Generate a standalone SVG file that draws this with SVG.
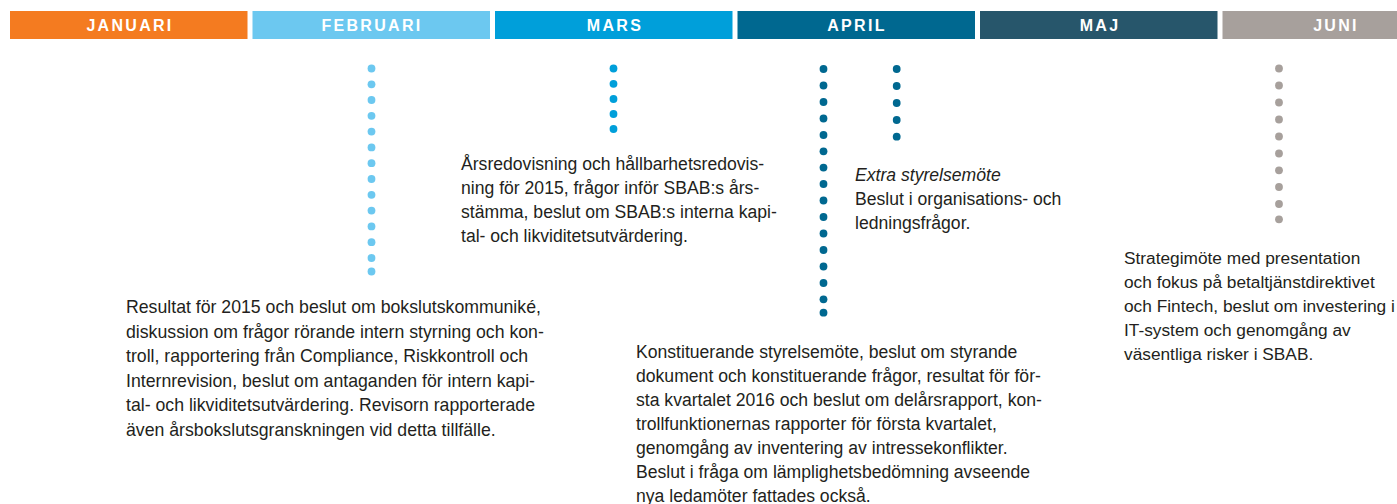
<svg xmlns="http://www.w3.org/2000/svg" width="1397" height="504" viewBox="0 0 1397 504">
<style>
.bar{stroke:none}
.mh{font-family:"Liberation Sans",Arial,sans-serif;font-weight:bold;font-size:16px;letter-spacing:2.3px;fill:#ffffff;text-anchor:middle}
.tx{font-family:"Liberation Sans",Arial,sans-serif;font-size:17.6px;fill:#231F20}
.sm{font-size:17.7px}
.jn{font-size:17.3px}
.it{font-style:italic}
</style>
<defs>
<circle id="d" r="3.9"/>
</defs>
<rect width="1397" height="504" fill="#ffffff"/>
<g id="months">
<g id="m-jan"><rect class="bar" x="10" y="11" width="237.5" height="28" fill="#F47B20"/><text class="mh" x="130" y="31">JANUARI</text></g>
<g id="m-feb"><rect class="bar" x="252.5" y="11" width="237.5" height="28" fill="#6CC8F0"/><text class="mh" x="372" y="31">FEBRUARI</text></g>
<g id="m-mar"><rect class="bar" x="495" y="11" width="237.5" height="28" fill="#009FDA"/><text class="mh" x="615" y="31">MARS</text></g>
<g id="m-apr"><rect class="bar" x="737.5" y="11" width="237.5" height="28" fill="#006890"/><text class="mh" x="857" y="31">APRIL</text></g>
<g id="m-maj"><rect class="bar" x="980" y="11" width="237.5" height="28" fill="#27566B"/><text class="mh" x="1100" y="31">MAJ</text></g>
<g id="m-jun"><rect class="bar" x="1222.5" y="11" width="237.5" height="28" fill="#A7A09C"/><text class="mh" x="1336" y="31">JUNI</text></g>
</g>
<g id="connectors">
<g id="dots-feb" fill="#6CC8F0">
<use href="#d" x="371.5" y="68.5"/><use href="#d" x="371.5" y="84.3"/><use href="#d" x="371.5" y="100"/><use href="#d" x="371.5" y="115.8"/><use href="#d" x="371.5" y="131.6"/><use href="#d" x="371.5" y="147.4"/><use href="#d" x="371.5" y="163.2"/><use href="#d" x="371.5" y="179"/><use href="#d" x="371.5" y="194.8"/><use href="#d" x="371.5" y="210.6"/><use href="#d" x="371.5" y="226.4"/><use href="#d" x="371.5" y="242.2"/><use href="#d" x="371.5" y="258"/><use href="#d" x="371.5" y="271.5"/>
</g>
<g id="dots-mar" fill="#009FDA">
<use href="#d" x="613.5" y="68.5"/><use href="#d" x="613.5" y="83.8"/><use href="#d" x="613.5" y="99"/><use href="#d" x="613.5" y="114"/><use href="#d" x="613.5" y="129"/>
</g>
<g id="dots-apr1" fill="#006890">
<use href="#d" x="823.5" y="69"/><use href="#d" x="823.5" y="85.5"/><use href="#d" x="823.5" y="102"/><use href="#d" x="823.5" y="118.5"/><use href="#d" x="823.5" y="135"/><use href="#d" x="823.5" y="151.3"/><use href="#d" x="823.5" y="167.6"/><use href="#d" x="823.5" y="184"/><use href="#d" x="823.5" y="200.5"/><use href="#d" x="823.5" y="217"/><use href="#d" x="823.5" y="233.5"/><use href="#d" x="823.5" y="250"/><use href="#d" x="823.5" y="266.5"/><use href="#d" x="823.5" y="283"/><use href="#d" x="823.5" y="299.3"/><use href="#d" x="823.5" y="312.7"/>
</g>
<g id="dots-apr2" fill="#006890">
<use href="#d" x="896.7" y="69"/><use href="#d" x="896.7" y="86"/><use href="#d" x="896.7" y="103"/><use href="#d" x="896.7" y="120"/><use href="#d" x="896.7" y="136.7"/>
</g>
<g id="dots-jun" fill="#A7A09C">
<use href="#d" x="1279" y="68.5"/><use href="#d" x="1279" y="85.5"/><use href="#d" x="1279" y="102.5"/><use href="#d" x="1279" y="119.5"/><use href="#d" x="1279" y="136.5"/><use href="#d" x="1279" y="153.5"/><use href="#d" x="1279" y="170.3"/><use href="#d" x="1279" y="187"/><use href="#d" x="1279" y="204"/><use href="#d" x="1279" y="219.3"/>
</g>
</g>
<g id="note-feb">
<text class="tx sm" x="126" y="313">Resultat för 2015 och beslut om bokslutskommuniké,</text>
<text class="tx sm" x="126" y="337.5">diskussion om frågor rörande intern styrning och kon-</text>
<text class="tx sm" x="126" y="362">troll, rapportering från Compliance, Riskkontroll och</text>
<text class="tx sm" x="126" y="386.5">Internrevision, beslut om antaganden för intern kapi-</text>
<text class="tx sm" x="126" y="411">tal- och likviditetsutvärdering. Revisorn rapporterade</text>
<text class="tx sm" x="126" y="435.5">även årsbokslutsgranskningen vid detta tillfälle.</text>
</g>
<g id="note-mar">
<text class="tx" x="461" y="170">Årsredovisning och hållbarhetsredovis-</text>
<text class="tx" x="461" y="194">ning för 2015, frågor inför SBAB:s års-</text>
<text class="tx" x="461" y="218">stämma, beslut om SBAB:s interna kapi-</text>
<text class="tx" x="461" y="242">tal- och likviditetsutvärdering.</text>
</g>
<g id="note-apr-extra">
<text class="tx it" x="855" y="181">Extra styrelsemöte</text>
<text class="tx" x="855" y="205">Beslut i organisations- och</text>
<text class="tx" x="855" y="229">ledningsfrågor.</text>
</g>
<g id="note-apr">
<text class="tx" x="636" y="358">Konstituerande styrelsemöte, beslut om styrande</text>
<text class="tx" x="636" y="382">dokument och konstituerande frågor, resultat för för-</text>
<text class="tx" x="636" y="406">sta kvartalet 2016 och beslut om delårsrapport, kon-</text>
<text class="tx" x="636" y="430">trollfunktionernas rapporter för första kvartalet,</text>
<text class="tx" x="636" y="454">genomgång av inventering av intressekonflikter.</text>
<text class="tx" x="636" y="478">Beslut i fråga om lämplighetsbedömning avseende</text>
<text class="tx" x="636" y="502">nya ledamöter fattades också.</text>
</g>
<g id="note-jun">
<text class="tx jn" x="1124" y="264">Strategimöte med presentation</text>
<text class="tx jn" x="1124" y="288">och fokus på betaltjänstdirektivet</text>
<text class="tx jn" x="1124" y="312">och Fintech, beslut om investering i</text>
<text class="tx jn" x="1124" y="336">IT-system och genomgång av</text>
<text class="tx jn" x="1124" y="360">väsentliga risker i SBAB.</text>
</g>
</svg>
